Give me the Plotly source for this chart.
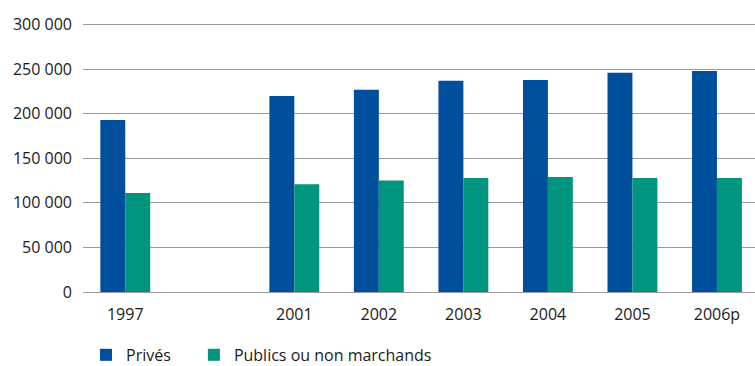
import plotly.graph_objects as go

categories = ["1997", " ", "2001", "2002", "2003", "2004", "2005", "2006p"]
prives = [193000, None, 220000, 227000, 237000, 238000, 246000, 248000]
publics = [111000, None, 121000, 125000, 128000, 129000, 128000, 128000]
y_ticks = [0, 50000, 100000, 150000, 200000, 250000, 300000]

font = "Open Sans"
fig = go.Figure()
fig.add_trace(go.Bar(name="Privés", x=categories, y=prives, marker_color="#004f9c",
                     marker_line_width=0, legend="legend"))
fig.add_trace(go.Bar(name="Publics ou non marchands", x=categories, y=publics, marker_color="#00957e",
                     marker_line_width=0, legend="legend2"))

fig.update_layout(
    width=755, height=366,
    margin=dict(l=83, r=0, t=22, b=74, autoexpand=False),
    barmode="group", bargap=0.41, bargroupgap=0,
    plot_bgcolor="white", paper_bgcolor="white",
    separators=", ",
    font=dict(family=font, size=16, color="#1a1a1a"),
    showlegend=True,
    legend=dict(orientation="h", x=0.0045, y=-0.233, xanchor="left", yanchor="middle",
                font=dict(size=16), bgcolor="rgba(0,0,0,0)"),
    legend2=dict(orientation="h", x=0.165, y=-0.233, xanchor="left", yanchor="middle",
                 font=dict(size=16), bgcolor="rgba(0,0,0,0)"),
    xaxis=dict(type="category", categoryorder="array", categoryarray=categories,
               range=[-0.5, 7.45], showgrid=False, showline=False, ticks="",
               ticklabelstandoff=11, tickfont=dict(size=16)),
    yaxis=dict(range=[0, 303000], tickvals=y_ticks, tickformat=",d",
               showgrid=True, gridcolor="#9a9a9a", gridwidth=1,
               zeroline=True, zerolinecolor="#9a9a9a", zerolinewidth=1,
               ticks="", ticklabelstandoff=10, tickfont=dict(size=16)),
)
fig.write_html("out.html", config={"displayModeBar": False},
               post_script="document.body.style.margin='0';")
